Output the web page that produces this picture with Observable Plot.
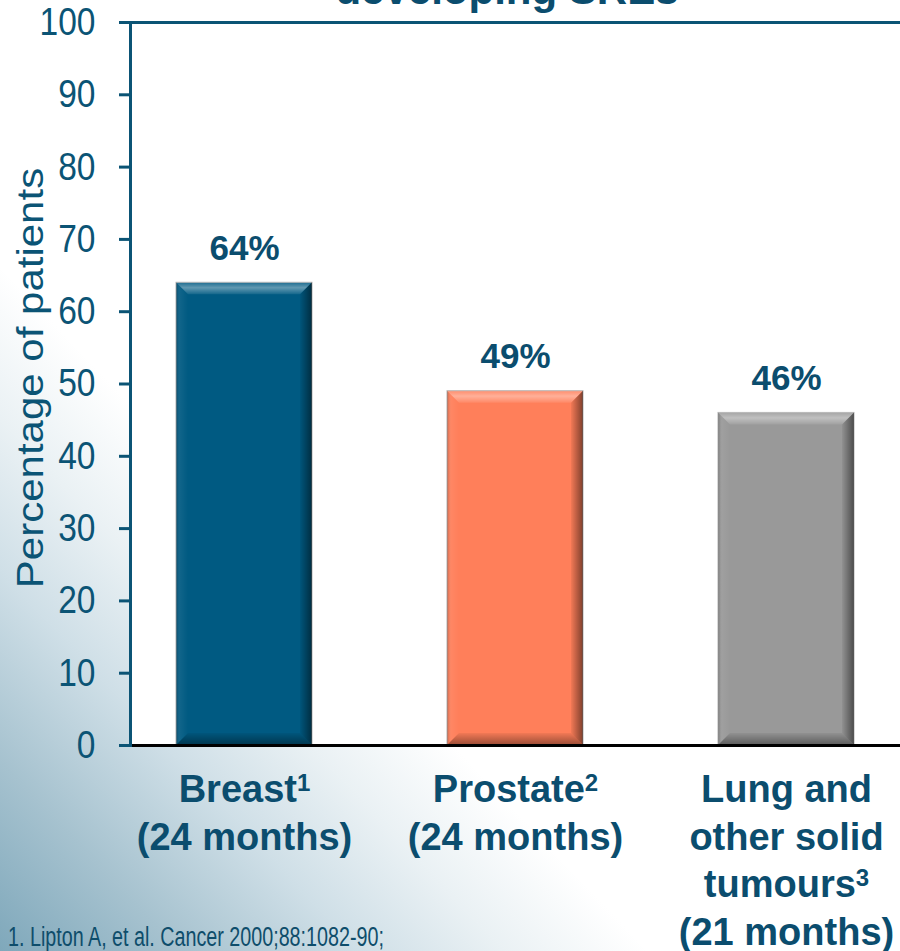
<!DOCTYPE html>
<html>
<head>
<meta charset="utf-8">
<script src="https://cdn.jsdelivr.net/npm/d3@7"></script>
<script src="https://cdn.jsdelivr.net/npm/@observablehq/plot@0.6"></script>
<style>
  html, body { margin: 0; padding: 0; background: #fff; }
  #slide {
    position: relative; width: 900px; height: 951px; overflow: hidden;
    background: linear-gradient(to top right, #7fa8bb 0%, #a6c2cf 10%, #cfdfe7 20%, #eaf1f4 28%, #ffffff 36%);
    font-family: "Liberation Sans", Arial, sans-serif;
  }
  #chart { position: absolute; left: 0; top: 0; }
  #title {
    position: absolute; left: 507px; top: -31px; transform: translateX(-50%);
    white-space: nowrap; font-size: 42px; line-height: 1; font-weight: bold; color: #0b4d6e;
  }
  #ylabel {
    position: absolute; left: 31px; top: 378px; white-space: nowrap;
    font-size: 42px; line-height: 1; color: #0b5475;
    transform: translate(-50%, -50%) rotate(-90deg) scaleY(0.87);
  }
  #note {
    position: absolute; left: 8px; top: 924px; white-space: nowrap;
    font-size: 27px; line-height: 1; color: #0e4d6b;
    transform-origin: 0 0; transform: scaleX(0.73);
  }
</style>
</head>
<body>
<div id="slide">
  <div id="chart"></div>
  <div id="title">developing SREs</div>
  <div id="ylabel">Percentage of patients</div>
  <div id="note">1. Lipton A, et al. Cancer 2000;88:1082-90;</div>
</div>
<script>
// Patients developing skeletal-related events, by tumour type
const categories = ["Breast", "Prostate", "Lung"];
const tickLabels = ["Breast¹\n(24 months)", "Prostate²\n(24 months)", "Lung and\nother solid\ntumours³\n(21 months)"];
const values = [64, 49, 46];
const barColors = ["#005a82", "#ff7f5a", "#999999"];
const yTicks = [0, 10, 20, 30, 40, 50, 60, 70, 80, 90, 100];

const axisBlue = "#0b5475";
const labelBlue = "#0b4d6e";

const data = categories.map((c, i) => ({category: c, value: values[i], color: barColors[i]}));

const chart = Plot.plot({
  width: 900,
  height: 951,
  marginTop: 22,
  marginBottom: 206,
  marginLeft: 130,
  marginRight: 0,
  style: {background: "transparent", fontFamily: "'Liberation Sans', Arial, sans-serif", overflow: "visible"},
  x: {domain: categories, paddingInner: 0.5, paddingOuter: 0.168, label: null},
  y: {domain: [0, 100], label: null},
  color: {type: "identity"},
  marks: [
    Plot.frame({fill: "white", stroke: null}),
    Plot.barY(data, {x: "category", y: "value", fill: "color", stroke: "#b3b3b3", strokeWidth: 1}),
    Plot.ruleY([100], {stroke: axisBlue, strokeWidth: 3}),
    Plot.ruleY([0], {stroke: "black", strokeWidth: 3}),
    Plot.frame({anchor: "left", stroke: axisBlue, strokeWidth: 3}),
    Plot.axisY({ticks: yTicks, tickSize: 11, tickPadding: 24, strokeWidth: 3, stroke: axisBlue, fill: axisBlue, fontSize: 39, label: null}),
    Plot.axisX({
      tickSize: 0, tickPadding: 23, fontSize: 38, fontWeight: "bold", fill: labelBlue,
      lineHeight: 1.25, label: null,
      tickFormat: (c) => tickLabels[categories.indexOf(c)]
    }),
    Plot.text(data, {
      x: "category", y: "value", text: (d) => `${d.value}%`, dy: -23, lineAnchor: "bottom",
      fontSize: 35, fontWeight: "bold", fill: labelBlue
    })
  ]
});
document.getElementById("chart").appendChild(chart);

const svgNS = "http://www.w3.org/2000/svg";

// Narrow, tall y tick numerals
chart.querySelectorAll('g[aria-label="y-axis tick label"] text').forEach((t) => {
  const tr = t.getAttribute("transform") || "";
  t.setAttribute("transform", `${tr} scale(0.86,1)`);
});

// Footnote markers on category labels drawn as raised digits
const supMap = {"¹": "1", "²": "2", "³": "3"};
chart.querySelectorAll('g[aria-label="x-axis tick label"] tspan').forEach((t) => {
  const s = t.textContent, last = s.slice(-1);
  if (supMap[last]) {
    t.textContent = s.slice(0, -1);
    const sup = document.createElementNS(svgNS, "tspan");
    sup.setAttribute("font-size", "24");
    sup.setAttribute("baseline-shift", "11");
    sup.textContent = supMap[last];
    t.appendChild(sup);
  }
});

// Bevelled edges on each bar, built from the rendered bar geometry
const defs = document.createElementNS(svgNS, "defs");
defs.innerHTML = `
  <linearGradient id="bevTop" x1="0" y1="0" x2="0" y2="1">
    <stop offset="0" stop-color="#fff" stop-opacity="0.12"/>
    <stop offset="0.45" stop-color="#fff" stop-opacity="0.38"/>
    <stop offset="1" stop-color="#fff" stop-opacity="0.08"/>
  </linearGradient>
  <linearGradient id="bevRight" x1="0" y1="0" x2="1" y2="0">
    <stop offset="0" stop-color="#000" stop-opacity="0.05"/>
    <stop offset="1" stop-color="#000" stop-opacity="0.5"/>
  </linearGradient>
  <linearGradient id="bevLeft" x1="0" y1="0" x2="1" y2="0">
    <stop offset="0" stop-color="#000" stop-opacity="0.22"/>
    <stop offset="0.35" stop-color="#fff" stop-opacity="0.06"/>
    <stop offset="1" stop-color="#fff" stop-opacity="0"/>
  </linearGradient>
  <linearGradient id="bevBottom" x1="0" y1="0" x2="0" y2="1">
    <stop offset="0" stop-color="#000" stop-opacity="0.05"/>
    <stop offset="1" stop-color="#000" stop-opacity="0.4"/>
  </linearGradient>`;
chart.insertBefore(defs, chart.firstChild);

const barGroup = chart.querySelector('g[aria-label="bar"]');
const bevel = document.createElementNS(svgNS, "g");
const b = 12;
barGroup.querySelectorAll("rect").forEach((r) => {
  const x = +r.getAttribute("x"), y = +r.getAttribute("y");
  const w = +r.getAttribute("width"), h = +r.getAttribute("height");
  const faces = [
    ["bevTop", [[x, y], [x + w, y], [x + w - b, y + b], [x + b, y + b]]],
    ["bevLeft", [[x, y], [x + b, y + b], [x + b, y + h - b], [x, y + h]]],
    ["bevRight", [[x + w, y], [x + w, y + h], [x + w - b, y + h - b], [x + w - b, y + b]]],
    ["bevBottom", [[x, y + h], [x + b, y + h - b], [x + w - b, y + h - b], [x + w, y + h]]]
  ];
  for (const [grad, pts] of faces) {
    const p = document.createElementNS(svgNS, "polygon");
    p.setAttribute("points", pts.map((q) => q.join(",")).join(" "));
    p.setAttribute("fill", `url(#${grad})`);
    bevel.appendChild(p);
  }
});
barGroup.after(bevel);
</script>
</body>
</html>
